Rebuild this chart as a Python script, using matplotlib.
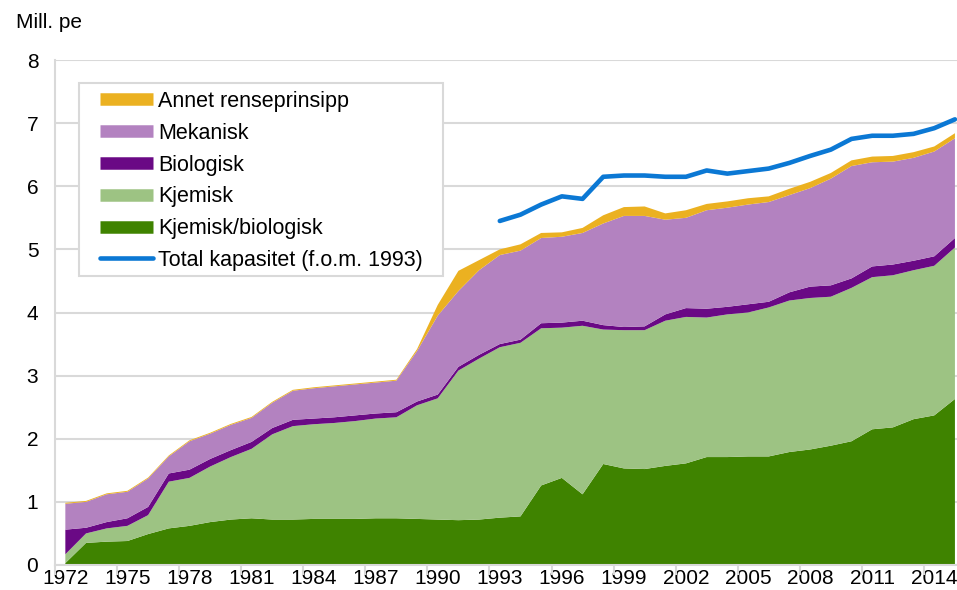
import numpy as np
import matplotlib
matplotlib.use('Agg')
import matplotlib.pyplot as plt
from matplotlib.lines import Line2D
from matplotlib.patches import Rectangle

plt.rcParams['font.family'] = ['Liberation Sans', 'DejaVu Sans']

years = list(range(1972, 2016))

kjemisk_biologisk = [0.03, 0.35, 0.37, 0.38, 0.49, 0.58, 0.62, 0.68, 0.72, 0.74,
                     0.72, 0.72, 0.73, 0.73, 0.73, 0.74, 0.74, 0.73, 0.72, 0.71,
                     0.72, 0.75, 0.77, 1.26, 1.38, 1.12, 1.60, 1.53, 1.52, 1.57,
                     1.61, 1.71, 1.71, 1.72, 1.72, 1.79, 1.83, 1.89, 1.96, 2.15,
                     2.18, 2.31, 2.37, 2.63]
kjemisk = [0.14, 0.15, 0.21, 0.24, 0.30, 0.74, 0.76, 0.88, 0.99, 1.10,
           1.35, 1.48, 1.50, 1.52, 1.55, 1.58, 1.60, 1.80, 1.92, 2.37,
           2.55, 2.70, 2.75, 2.49, 2.38, 2.67, 2.13, 2.19, 2.20, 2.30,
           2.32, 2.21, 2.26, 2.28, 2.36, 2.40, 2.40, 2.36, 2.43, 2.41,
           2.41, 2.36, 2.37, 2.40]
biologisk = [0.39, 0.09, 0.10, 0.12, 0.13, 0.13, 0.13, 0.12, 0.11, 0.11,
             0.10, 0.10, 0.09, 0.09, 0.09, 0.08, 0.08, 0.06, 0.06, 0.06,
             0.06, 0.05, 0.05, 0.08, 0.08, 0.08, 0.07, 0.05, 0.06, 0.10,
             0.14, 0.14, 0.12, 0.13, 0.09, 0.13, 0.18, 0.18, 0.15, 0.17,
             0.17, 0.15, 0.15, 0.15]
mekanisk = [0.41, 0.41, 0.44, 0.42, 0.45, 0.27, 0.45, 0.40, 0.40, 0.38,
            0.40, 0.46, 0.48, 0.49, 0.49, 0.49, 0.50, 0.80, 1.25, 1.20,
            1.34, 1.41, 1.41, 1.35, 1.36, 1.39, 1.61, 1.76, 1.75, 1.50,
            1.43, 1.56, 1.57, 1.58, 1.58, 1.54, 1.56, 1.69, 1.78, 1.65,
            1.63, 1.63, 1.66, 1.58]
annet = [0.015, 0.015, 0.015, 0.015, 0.015, 0.015, 0.015, 0.015, 0.015, 0.015,
         0.015, 0.015, 0.015, 0.015, 0.015, 0.015, 0.015, 0.03, 0.17, 0.32,
         0.16, 0.09, 0.10, 0.08, 0.07, 0.08, 0.13, 0.14, 0.15, 0.10,
         0.12, 0.10, 0.10, 0.10, 0.09, 0.10, 0.10, 0.09, 0.09, 0.09,
         0.09, 0.09, 0.08, 0.08]

total_years = list(range(1993, 2016))
total_kapasitet = [5.45, 5.55, 5.71, 5.84, 5.80, 6.15, 6.17, 6.17, 6.15, 6.15,
                   6.25, 6.20, 6.24, 6.28, 6.37, 6.48, 6.58, 6.75, 6.80, 6.80,
                   6.83, 6.92, 7.06]

colors = ['#3f8300', '#9dc383', '#6a0985', '#b382c0', '#ebb121']
blue = '#0b78d4'
grid = '#d9d9d9'

fig = plt.figure(figsize=(9.57, 5.9), dpi=100)
ax = fig.add_axes([55 / 957, 1 - 565 / 590, 1 - 55 / 957, 505 / 590])

ax.stackplot(years, kjemisk_biologisk, kjemisk, biologisk, mekanisk, annet,
             colors=colors, linewidth=0)
ax.plot(total_years, total_kapasitet, color=blue, linewidth=3.3,
        solid_capstyle='round')

ax.set_xlim(1971.5, 2015.1)
ax.set_ylim(0, 8)
ax.set_yticks(range(0, 9))
ax.set_xticks(range(1972, 2015, 3))
ax.set_xticks(np.arange(1971.5, 2015, 3), minor=True)
ax.tick_params(axis='both', which='major', length=0, labelsize=15)
ax.tick_params(axis='y', pad=12)
ax.tick_params(axis='x', pad=3)
ax.tick_params(axis='x', which='minor', length=7, width=1.5, color=grid)
ax.yaxis.grid(True, color=grid, linewidth=1.5)
ax.set_axisbelow(True)
for s in ['top', 'right']:
    ax.spines[s].set_visible(False)
for s in ['left', 'bottom']:
    ax.spines[s].set_color(grid)
    ax.spines[s].set_linewidth(1.5)

# legend box drawn by hand (Excel-style padding)
fig.patches.append(Rectangle((79 / 957, 1 - 276 / 590), 364 / 957, 193 / 590,
                             transform=fig.transFigure, facecolor='white',
                             edgecolor=grid, linewidth=1.5, zorder=3))

handles = [Line2D([], [], color=colors[4], linewidth=9, solid_capstyle='butt'),
           Line2D([], [], color=colors[3], linewidth=9, solid_capstyle='butt'),
           Line2D([], [], color=colors[2], linewidth=9, solid_capstyle='butt'),
           Line2D([], [], color=colors[1], linewidth=9, solid_capstyle='butt'),
           Line2D([], [], color=colors[0], linewidth=9, solid_capstyle='butt'),
           Line2D([], [], color=blue, linewidth=3.3, solid_capstyle='round')]
leg_labels = ['Annet renseprinsipp', 'Mekanisk', 'Biologisk', 'Kjemisk',
              'Kjemisk/biologisk', 'Total kapasitet (f.o.m. 1993)']
leg = fig.legend(handles, leg_labels, loc='upper left',
                 bbox_to_anchor=(100 / 957, 1 - 91 / 590), borderaxespad=0,
                 fontsize=15.5, frameon=False,
                 handlelength=2.45, handletextpad=0.25, labelspacing=0.5,
                 borderpad=0)
leg.set_zorder(4)

fig.text(16 / 957, 1 - 22 / 590, 'Mill. pe', fontsize=15, va='center')

fig.savefig('out.png', dpi=100)
